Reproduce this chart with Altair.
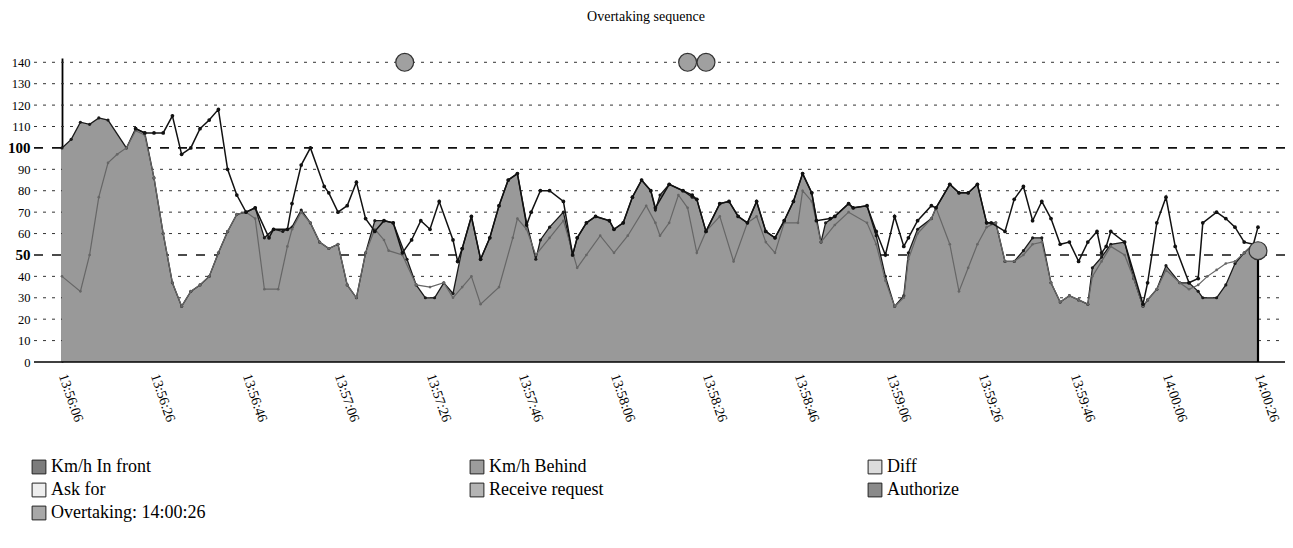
import altair as alt
import pandas as pd

TITLE = "Overtaking sequence"
START = "13:56:06"

# seconds after 13:56:06 and km/h values
front_t = [0, 2, 4, 6, 8, 10, 14, 16, 18, 20, 22, 24, 26, 28, 30, 32, 34, 36, 38, 40, 42, 44, 46, 48, 50,
           52, 54, 56, 58, 60, 62, 64, 66, 68, 70, 72, 75, 77, 79, 81, 83, 85, 87, 89, 91, 93, 95, 97, 99,
           101, 103, 104, 106, 109, 111, 112, 114, 116, 119, 120, 122, 124, 126, 128, 129, 130, 132, 135,
           137, 138, 140, 143, 145, 147, 149, 151, 153, 155, 157, 159, 161, 163, 165, 166, 168, 171, 172,
           175, 177, 179, 181, 183, 184, 186, 189, 190, 193, 195, 197, 199, 201, 203, 205, 207, 209, 211,
           213, 215, 217, 219, 221, 223, 224, 226, 228, 231, 233, 235, 236, 238, 240, 243, 245, 247, 248,
           251, 253, 255, 257, 259, 260]
front_v = [100, 104, 112, 111, 114, 113, 100, 109, 107, 86, 60, 37, 26, 33, 36, 40, 51, 61, 69, 70, 72, 58,
           62, 61, 63, 71, 65, 56, 53, 55, 36, 30, 51, 66, 66, 65, 48, 36, 30, 30, 37, 32, 53, 68, 48, 58,
           73, 85, 88, 65, 48, 57, 63, 70, 50, 58, 65, 68, 66, 62, 65, 77, 85, 80, 71, 78, 83, 80, 77, 76,
           61, 74, 75, 68, 65, 75, 61, 58, 66, 75, 88, 79, 56, 65, 68, 74, 72, 73, 59, 40, 26, 31, 51, 62,
           67, 72, 83, 79, 79, 83, 65, 65, 47, 47, 52, 58, 58, 37, 28, 31, 29, 27, 44, 49, 55, 56, 39, 26,
           29, 34, 45, 37, 37, 33, 30, 30, 36, 46, 51, 55, 53]

behind_t = [16, 18, 20, 22, 24, 26, 28, 30, 32, 34, 36, 38, 40, 42, 45, 46, 49, 50, 52, 54, 57, 58, 60, 62,
            64, 66, 68, 70, 72, 74, 76, 78, 80, 82, 85, 86, 87, 89, 91, 93, 95, 97, 99, 101, 102, 104, 106,
            109, 111, 112, 114, 116, 119, 120, 122, 124, 126, 128, 129, 132, 135, 137, 138, 140, 143, 145,
            147, 149, 151, 153, 155, 157, 159, 161, 163, 164, 167, 168, 171, 172, 175, 177, 179, 181, 183,
            184, 186, 189, 190, 193, 195, 197, 199, 201, 202, 205, 207, 209, 211, 213, 215, 217, 219, 221,
            223, 225, 226, 227, 228, 231, 235, 236, 238, 240, 242, 245, 247, 248, 251, 253, 255, 257, 259, 260]
behind_v = [109, 107, 107, 107, 115, 97, 100, 109, 113, 118, 90, 78, 70, 72, 58, 62, 62, 74, 92, 100, 82, 79,
            70, 73, 84, 67, 61, 66, 65, 51, 57, 66, 62, 75, 57, 47, 53, 68, 48, 58, 73, 85, 88, 64, 70, 80,
            80, 75, 50, 58, 65, 68, 66, 62, 65, 77, 85, 80, 72, 83, 80, 78, 76, 61, 74, 75, 68, 65, 75, 61,
            58, 66, 75, 88, 79, 66, 67, 68, 74, 72, 73, 61, 50, 68, 54, 58, 66, 73, 72, 83, 79, 79, 83, 65,
            65, 61, 76, 82, 66, 75, 67, 55, 56, 47, 56, 61, 51, 54, 61, 56, 27, 37, 65, 77, 54, 37, 39, 65,
            70, 67, 63, 56, 55, 63]

diff_t = [0, 4, 6, 8, 10, 12, 14, 16, 18, 20, 22, 24, 26, 28, 30, 32, 34, 36, 38, 40, 42, 44, 47, 49, 50,
          52, 54, 56, 58, 60, 62, 64, 66, 68, 70, 71, 74, 77, 80, 83, 85, 87, 89, 91, 95, 98, 99, 101, 103,
          106, 109, 112, 114, 117, 120, 123, 127, 129, 130, 132, 134, 136, 138, 140, 143, 146, 149, 151,
          153, 155, 157, 160, 161, 163, 165, 168, 171, 175, 177, 179, 181, 183, 184, 186, 189, 190, 193,
          195, 197, 199, 201, 203, 205, 207, 209, 211, 213, 215, 217, 219, 221, 223, 224, 226, 228, 231,
          233, 235, 236, 238, 240, 243, 245, 247, 249, 251, 253, 255, 257, 259, 260]
diff_v = [40, 33, 50, 77, 93, 97, 100, 108, 106, 86, 60, 37, 26, 33, 36, 40, 51, 61, 69, 70, 67, 34, 34, 54,
          62, 70, 65, 56, 53, 55, 36, 30, 51, 62, 57, 52, 50, 36, 35, 37, 30, 35, 40, 27, 35, 58, 67, 62,
          50, 58, 66, 44, 50, 59, 51, 59, 73, 65, 59, 65, 78, 72, 51, 61, 68, 47, 65, 68, 56, 51, 65, 65,
          80, 75, 56, 64, 70, 65, 55, 38, 26, 30, 48, 60, 67, 72, 55, 33, 44, 55, 63, 65, 47, 47, 50, 55,
          56, 37, 28, 31, 29, 27, 40, 47, 54, 50, 39, 26, 29, 34, 43, 37, 34, 36, 40, 43, 46, 47, 51, 55, 53]

event_names = ["Ask for", "Receive request", "Authorize", "Overtaking: 14:00:26"]
event_t = [74.5, 136, 140, 260]
event_v = [140, 140, 140, 52]

legend_names = ["Km/h In front", "Km/h Behind", "Diff", "Ask for", "Receive request",
                "Authorize", "Overtaking: 14:00:26"]
legend_colors = ["#7c7c7c", "#9c9c9c", "#dcdcdc", "#eeeeee", "#b4b4b4", "#8a8a8a", "#a8a8a8"]

minor_grid = [10, 20, 30, 40, 60, 70, 80, 90, 110, 120, 130, 140]
major_grid = [50, 100]
y_ticks = list(range(0, 141, 10))
x_ticks = list(range(0, 261, 20))

W, H = 1196, 304
SERIF = "Liberation Serif"
h0, m0, s0 = [int(p) for p in START.split(":")]

xscale = alt.Scale(domain=[0, 260], nice=False, zero=False)
yscale = alt.Scale(domain=[0, 142], nice=False)

xaxis = alt.Axis(values=x_ticks,
                 labelExpr=f"timeFormat(datetime(2000, 0, 1, {h0}, {m0}, {s0} + datum.value), '%H:%M:%S')",
                 labelAngle=71, labelAlign="left", labelBaseline="middle", labelFont=SERIF,
                 labelFontSize=14, labelColor="black", labelPadding=12, ticks=False, domain=False,
                 grid=False, title=None, labelOverlap=False)
yaxis = alt.Axis(values=y_ticks, grid=False, ticks=False, domain=True, domainColor="black",
                 domainWidth=1.8, labelFont=SERIF, labelColor="black", labelPadding=32, title=None,
                 labelFontSize={"condition": {"test": "datum.value == 50 || datum.value == 100", "value": 15}, "value": 12.5},
                 labelFontWeight={"condition": {"test": "datum.value == 50 || datum.value == 100", "value": "bold"}, "value": "normal"})


def X(field="sec"):
    return alt.X(f"{field}:Q", scale=xscale, axis=xaxis)


def Y(field="kmh"):
    return alt.Y(f"{field}:Q", scale=yscale, axis=yaxis)


front_df = pd.DataFrame({"sec": front_t, "kmh": front_v})
behind_df = pd.DataFrame({"sec": behind_t, "kmh": behind_v})
diff_df = pd.DataFrame({"sec": diff_t, "kmh": diff_v})
event_df = pd.DataFrame({"sec": event_t, "kmh": event_v, "name": event_names})

minor = alt.Chart(pd.DataFrame({"kmh": minor_grid})).mark_rule(
    strokeDash=[3, 6], color="#333333", strokeWidth=1).encode(
    y=Y(), x=alt.value(-28), x2=alt.value(W + 32))
major = alt.Chart(pd.DataFrame({"kmh": major_grid})).mark_rule(
    strokeDash=[9, 9], color="#111111", strokeWidth=1.6).encode(
    y=Y(), x=alt.value(-28), x2=alt.value(W + 32))
baseline = alt.Chart(pd.DataFrame({"kmh": [0]})).mark_rule(
    color="black", strokeWidth=1.6).encode(y=Y(), x=alt.value(-28), x2=alt.value(W + 32))

area = alt.Chart(front_df).mark_area(
    color="#999999", opacity=1,
    line={"color": "#1a1a1a", "strokeWidth": 1.3},
    point={"color": "#1a1a1a", "size": 10, "filled": True}).encode(x=X(), y=Y())

diff = alt.Chart(diff_df).mark_line(
    color="#666666", strokeWidth=1.2,
    point={"color": "#666666", "size": 7, "filled": True}).encode(x=X(), y=Y())

behind = alt.Chart(behind_df).mark_line(
    color="#111111", strokeWidth=1.5,
    point={"color": "#111111", "size": 14, "filled": True}).encode(x=X(), y=Y())

over_rule = alt.Chart(event_df).transform_filter(
    alt.datum.name == event_names[3]).mark_rule(color="black", strokeWidth=2.2).encode(
    x=X(), y=Y(), y2=alt.datum(0))

events = alt.Chart(event_df).mark_circle(
    size=320, color="#a0a0a0", stroke="#333333", strokeWidth=1.2, opacity=1).encode(x=X(), y=Y())

legend_layer = alt.Chart(pd.DataFrame({"name": legend_names})).mark_square(
    size=100, opacity=1, clip=True).encode(
    x=alt.value(-600), y=alt.value(-600),
    fill=alt.Fill("name:N",
                  scale=alt.Scale(domain=legend_names, range=legend_colors),
                  legend=alt.Legend(title=None, orient="none", legendX=-32, legendY=400,
                                    direction="horizontal",
                                    columns=3, columnPadding=262, rowPadding=5,
                                    symbolType="square", symbolSize=190, symbolOpacity=1,
                                    symbolStrokeColor="#222222", symbolStrokeWidth=1,
                                    labelFont=SERIF, labelFontSize=18, labelColor="black",
                                    labelOffset=3, labelLimit=400)))

chart = alt.layer(minor, major, area, diff, behind, baseline, over_rule, events, legend_layer).properties(
    width=W, height=H,
    title=alt.TitleParams(TITLE, font=SERIF, fontSize=14, fontWeight="normal", color="black",
                          anchor="middle", dx=-14, offset=27),
    autosize=alt.AutoSizeParams(type="none"),
    padding={"left": 54, "top": 50, "right": 27, "bottom": 170},
).configure_view(stroke=None)

chart.save("out.html", embed_options={"renderer": "svg", "actions": False})
